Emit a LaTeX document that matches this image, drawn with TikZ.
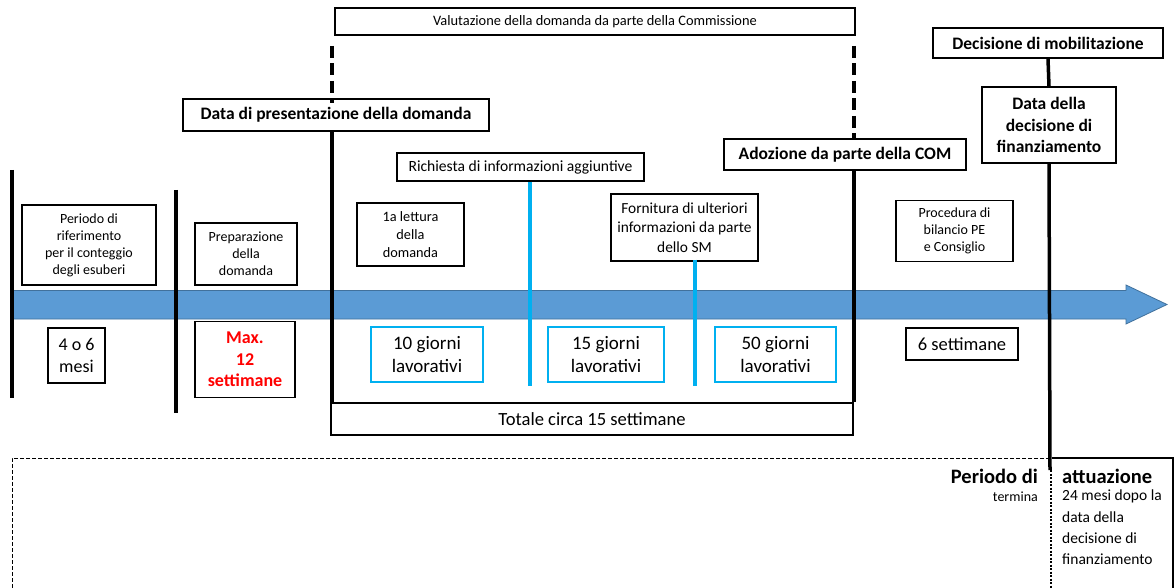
\documentclass[tikz,border=0pt]{standalone}
\usepackage{fontspec}
\setmainfont{Carlito}
\definecolor{arrowblue}{HTML}{5B9BD5}
\definecolor{arrowedge}{HTML}{41719C}
\definecolor{cyanline}{HTML}{00B0F0}
\definecolor{maxred}{HTML}{FF0000}
\newcommand{\fs}[2]{\fontsize{#1}{#2}\selectfont}
\begin{document}
\begin{tikzpicture}[x=1pt,y=-1pt,
  box/.style={draw=black, line width=1.5pt, fill=white, inner sep=0pt, align=center},
  bluebox/.style={draw=cyanline, line width=1.5pt, fill=white, inner sep=0pt, align=center},
  head/.style={box, font=\bfseries\fs{17.5}{21.5}},
  small/.style={font=\fs{14}{17}},
  big/.style={font=\fs{19}{23}},
  tline/.style={line width=3.5pt},
  dline/.style={line width=4pt, dash pattern=on 12pt off 5.5pt},
  bline/.style={draw=cyanline, line width=4pt}
]
\useasboundingbox (0,0) rectangle (1176,588);
\fill[white] (0,0) rectangle (1176,588);

% timeline arrow
\draw[fill=arrowblue, draw=arrowedge, line width=0.8pt]
  (13,290.5) -- (1126,290.5) -- (1126,285) -- (1167,304.5) -- (1126,324) -- (1126,319) -- (13,319) -- cycle;

% boxes
\node[box, font=\fs{14.4}{17}, minimum width=520, minimum height=27] (valut) at (595,21.5) {Valutazione della domanda da parte della Commissione};
\node[head, minimum width=306, minimum height=32] (present) at (336,115) {Data di presentazione della domanda};
\node[box, font=\fs{15.6}{18}, minimum width=247, minimum height=28] (richiesta) at (520.5,167) {Richiesta di informazioni aggiuntive};
\node[head, minimum width=242, minimum height=31] (adozione) at (845,154.5) {Adozione da parte della COM};
\node[head, minimum width=230, minimum height=30] (mobil) at (1048,43) {Decisione di mobilitazione};
\node[head, minimum width=134, minimum height=76] (finanz) at (1049,125) {Data della\\decisione di\\finanziamento};

\node[box, small, minimum width=134, minimum height=80] (rif) at (89,245) {Periodo di\\riferimento\\per il conteggio\\degli esuberi};
\node[box, small, minimum width=102, minimum height=62] (prep) at (246,254) {Preparazione\\della\\domanda};
\node[box, font=\fs{14.3}{18}, minimum width=107, minimum height=63] (lettura) at (410.5,234.5) {1a lettura\\della\\domanda};
\node[box, font=\fs{15.4}{19.3}, minimum width=147, minimum height=67] (fornit) at (684.5,227.5) {Fornitura di ulteriori\\informazioni da parte\\dello SM};
\node[box, small, minimum width=117, minimum height=61] (proc) at (954.5,231) {Procedura di\\bilancio PE\\e Consiglio};

\node[box, font=\fs{18}{22.5}, minimum width=57, minimum height=55] (mesi) at (76.5,355.5) {4 o 6\\mesi};
\node[box, font=\bfseries\fs{18}{21.5}, text=maxred, minimum width=100, minimum height=76] (max) at (245,359.5) {Max.\\12\\settimane};
\node[bluebox, big, minimum width=112, minimum height=55] (g10) at (427,354.5) {10 giorni\\lavorativi};
\node[bluebox, big, minimum width=116, minimum height=55] (g15) at (606,354.5) {15 giorni\\lavorativi};
\node[bluebox, big, minimum width=121, minimum height=55] (g50) at (775.5,354.5) {50 giorni\\lavorativi};
\node[box, font=\fs{18.5}{22}, minimum width=112, minimum height=32] (sett) at (962,344) {6 settimane};
\node[box, font=\fs{18.6}{22}, minimum width=522, minimum height=32] (totale) at (592,419) {Totale circa 15 settimane};

% vertical markers
\coordinate (l1t) at (12,170); \coordinate (l1b) at (12,398);
\coordinate (l2t) at (176,190); \coordinate (l2b) at (176,413);
\coordinate (l3) at (332,46);
\coordinate (l4) at (854,46);
\coordinate (l5b) at (1050,470);
\coordinate (b1) at (530,386);
\coordinate (b2) at (695,386);

\draw[tline] (l1t) -- (l1b);
\draw[tline] (l2t) -- (l2b);
\draw[dline] (l3) -- ([yshift=-5pt]l3 |- present.north);
\draw[tline] (l3 |- present.south) -- (l3 |- totale.north);
\draw[dline] (l4) -- (l4 |- adozione.north);
\draw[tline] (l4 |- adozione.south) -- (l4 |- totale.north);
\draw[tline] (mobil.south) -- (finanz.north);
\draw[tline] (finanz.south) -- (l5b);
\draw[bline] (b1 |- richiesta.south) -- (b1);
\draw[bline] ([yshift=2pt]b2 |- fornit.south) -- (b2);

% implementation period
\draw[line width=1pt, dash pattern=on 4pt off 2pt] (1050,458) -- (12,458) -- (12,592);
\draw[line width=1.2pt] (1052,458) -- (1173,458) -- (1173,592);
\draw[line width=1.6pt, dash pattern=on 2pt off 1.5pt] (1051,470) -- (1051,592);

\node[anchor=east, inner sep=0pt, font=\bfseries\fs{20.5}{24}] (per) at (1038,476) {Periodo di};
\node[anchor=east, inner sep=0pt, font=\fs{14}{16}] (term) at (1038,497) {termina};
\node[anchor=west, inner sep=0pt, font=\bfseries\fs{20.5}{24}] (att) at (1062,476) {attuazione};
\node[anchor=north west, inner sep=0pt, align=left, font=\fs{15.5}{21.3}] (m24) at (1062,490) {24 mesi dopo la\\data della\\decisione di\\finanziamento};
\end{tikzpicture}
\end{document}
